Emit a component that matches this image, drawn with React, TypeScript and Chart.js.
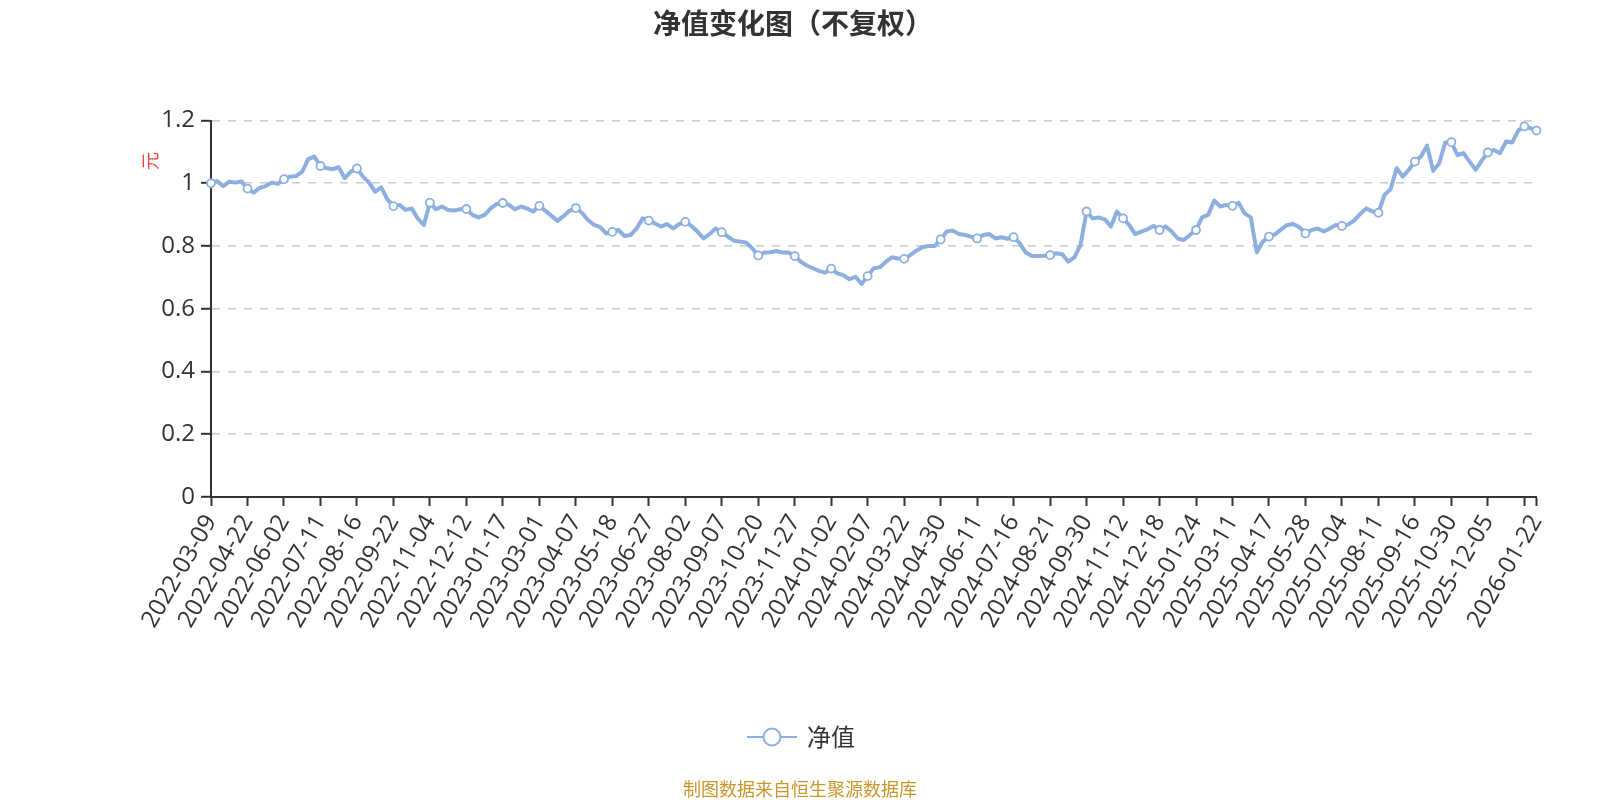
import React, { useEffect, useRef } from 'react';
import { Chart, registerables } from 'chart.js';

Chart.register(...registerables);

// ---- data ----
const chartTitle = '净值变化图（不复权）';
const seriesName = '净值';
const unitName = '元';
const sourceNote = '制图数据来自恒生聚源数据库';

// labelled dates (every 6th sampled point), plus the final date
const tickDates: string[] = [
  '2022-03-09', '2022-04-22', '2022-06-02', '2022-07-11', '2022-08-16', '2022-09-22',
  '2022-11-04', '2022-12-12', '2023-01-17', '2023-03-01', '2023-04-07', '2023-05-18',
  '2023-06-27', '2023-08-02', '2023-09-07', '2023-10-20', '2023-11-27', '2024-01-02',
  '2024-02-07', '2024-03-22', '2024-04-30', '2024-06-11', '2024-07-16', '2024-08-21',
  '2024-09-30', '2024-11-12', '2024-12-18', '2025-01-24', '2025-03-11', '2025-04-17',
  '2025-05-28', '2025-07-04', '2025-08-11', '2025-09-16', '2025-10-30', '2025-12-05',
];
const lastDate = '2026-01-22';
const pointsPerLabel = 6;

// net value (元), sampled along the axis
const navValues: number[] = [
  1.000, 1.007, 0.991, 1.005, 1.002, 1.006,
  0.983, 0.970, 0.985, 0.991, 1.002, 0.998,
  1.013, 1.021, 1.023, 1.037, 1.077, 1.085,
  1.055, 1.048, 1.045, 1.051, 1.016, 1.037,
  1.047, 1.021, 1.002, 0.973, 0.987, 0.949,
  0.927, 0.931, 0.915, 0.920, 0.888, 0.867,
  0.938, 0.917, 0.926, 0.915, 0.913, 0.917,
  0.918, 0.899, 0.891, 0.899, 0.920, 0.934,
  0.937, 0.931, 0.917, 0.926, 0.919, 0.910,
  0.928, 0.912, 0.896, 0.880, 0.896, 0.913,
  0.921, 0.906, 0.883, 0.867, 0.860, 0.840,
  0.845, 0.851, 0.832, 0.835, 0.856, 0.888,
  0.881, 0.872, 0.862, 0.870, 0.856, 0.870,
  0.877, 0.864, 0.846, 0.824, 0.838, 0.856,
  0.844, 0.830, 0.817, 0.814, 0.811, 0.793,
  0.770, 0.779, 0.780, 0.784, 0.779, 0.779,
  0.768, 0.750, 0.738, 0.729, 0.721, 0.715,
  0.728, 0.713, 0.707, 0.694, 0.702, 0.679,
  0.704, 0.729, 0.732, 0.750, 0.764, 0.760,
  0.759, 0.771, 0.785, 0.796, 0.800, 0.800,
  0.821, 0.846, 0.849, 0.838, 0.835, 0.830,
  0.824, 0.835, 0.838, 0.824, 0.828, 0.823,
  0.828, 0.809, 0.779, 0.768, 0.768, 0.769,
  0.771, 0.777, 0.774, 0.750, 0.764, 0.803,
  0.910, 0.888, 0.891, 0.885, 0.862, 0.910,
  0.888, 0.867, 0.838, 0.846, 0.853, 0.864,
  0.851, 0.862, 0.846, 0.824, 0.819, 0.835,
  0.851, 0.891, 0.899, 0.945, 0.926, 0.931,
  0.928, 0.938, 0.904, 0.891, 0.780, 0.814,
  0.830, 0.837, 0.853, 0.867, 0.870, 0.860,
  0.840, 0.851, 0.856, 0.846, 0.856, 0.867,
  0.864, 0.868, 0.881, 0.902, 0.920, 0.910,
  0.906, 0.963, 0.981, 1.048, 1.021, 1.043,
  1.069, 1.085, 1.120, 1.040, 1.064, 1.130,
  1.131, 1.090, 1.096, 1.069, 1.043, 1.072,
  1.098, 1.106, 1.096, 1.133, 1.130, 1.168,
  1.181, 1.176, 1.168,
];

const yMin = 0;
const yMax = 1.2;
const yStep = 0.2;

// ---- styles ----
const lineColor = '#8cafe0';
const axisColor = '#333333';
const textColor = '#333333';
const gridColor = '#cccccc';
const FONT = '"Open Sans", "Noto Sans", "Noto Sans CJK SC", sans-serif';
const CJK = '"Noto Sans CJK SC", "Open Sans", sans-serif';

const lastIndex = navValues.length - 1;
const labels: string[] = navValues.map((_, i) => {
  if (i === lastIndex) return lastDate;
  if (i % pointsPerLabel === 0) {
    const k = i / pointsPerLabel;
    return k < tickDates.length ? tickDates[k] : '';
  }
  return '';
});
const isMarked = (i: number) => i % pointsPerLabel === 0 || i === lastIndex;

const overlayPlugin = {
  id: 'overlayTexts',
  afterDraw(chart: any) {
    const ctx = chart.ctx as CanvasRenderingContext2D;
    ctx.save();
    // title
    ctx.fillStyle = textColor;
    ctx.font = `bold 28px ${CJK}`;
    ctx.textAlign = 'center';
    ctx.textBaseline = 'middle';
    ctx.fillText(chartTitle, 793, 23);

    // y axis name (rotated)
    ctx.save();
    ctx.translate(150, 161);
    ctx.rotate(-Math.PI / 2);
    ctx.fillStyle = '#ff3b3b';
    ctx.font = `18px ${CJK}`;
    ctx.textAlign = 'center';
    ctx.textBaseline = 'middle';
    ctx.fillText(unitName, 0, 0);
    ctx.restore();

    // legend
    const ly = 737;
    ctx.strokeStyle = lineColor;
    ctx.lineWidth = 2;
    ctx.beginPath();
    ctx.moveTo(747, ly);
    ctx.lineTo(797, ly);
    ctx.stroke();
    ctx.beginPath();
    ctx.arc(772, ly, 8.5, 0, Math.PI * 2);
    ctx.fillStyle = '#ffffff';
    ctx.fill();
    ctx.stroke();
    ctx.fillStyle = textColor;
    ctx.font = `24px ${CJK}`;
    ctx.textAlign = 'left';
    ctx.textBaseline = 'middle';
    ctx.fillText(seriesName, 807, ly);

    // source note
    ctx.fillStyle = '#c9962c';
    ctx.font = `18px ${CJK}`;
    ctx.textAlign = 'center';
    ctx.textBaseline = 'middle';
    ctx.fillText(sourceNote, 800, 789);
    ctx.restore();
  },
};

export default function App() {
  const canvasRef = useRef<HTMLCanvasElement | null>(null);

  useEffect(() => {
    const canvas = canvasRef.current;
    if (!canvas) return;
    const chart = new Chart(canvas, {
      type: 'line',
      data: {
        labels,
        datasets: [
          {
            label: seriesName,
            data: navValues,
            borderColor: lineColor,
            borderWidth: 4,
            borderJoinStyle: 'round',
            tension: 0,
            pointRadius: (c: any) => (isMarked(c.dataIndex) ? 4 : 0),
            pointHoverRadius: (c: any) => (isMarked(c.dataIndex) ? 4 : 0),
            pointBackgroundColor: '#ffffff',
            pointBorderColor: lineColor,
            pointBorderWidth: 1.8,
          },
        ],
      },
      options: {
        responsive: false,
        animation: false,
        devicePixelRatio: 1,
        layout: { padding: { left: 0, right: 63.5, top: 120.5, bottom: 0 } },
        plugins: {
          legend: { display: false },
          title: { display: false },
          tooltip: { enabled: false },
        },
        scales: {
          x: {
            type: 'category',
            offset: false,
            afterBuildTicks: (scale: any) => {
              scale.ticks = scale.ticks.filter(
                (t: any) => t.value % pointsPerLabel === 0 || t.value === lastIndex
              );
            },
            afterFit: (scale: any) => {
              scale.height = 303;
            },
            grid: {
              drawOnChartArea: false,
              drawTicks: true,
              tickLength: 9,
              tickColor: axisColor,
              tickWidth: 2,
            },
            border: { display: true, color: axisColor, width: 2 },
            ticks: {
              autoSkip: false,
              maxRotation: 60,
              minRotation: 60,
              padding: 4,
              color: textColor,
              font: { size: 24, family: FONT },
              callback: (value: any) => labels[value as number],
            },
          },
          y: {
            type: 'linear',
            min: yMin,
            max: yMax,
            afterFit: (scale: any) => {
              scale.width = 211;
            },
            grid: {
              color: (c: any) => (c.tick && c.tick.value === 0 ? 'rgba(0,0,0,0)' : gridColor),
              lineWidth: 1.6,
              drawTicks: true,
              tickLength: 10,
              tickColor: axisColor,
              tickWidth: 2,
            },
            border: { display: true, color: axisColor, width: 2, dash: [8, 8] },
            ticks: {
              stepSize: yStep,
              padding: 6,
              color: textColor,
              font: { size: 24, family: FONT },
              callback: (value: any) => String(Number(Number(value).toFixed(1))),
            },
          },
        },
      },
      plugins: [overlayPlugin],
    } as any);
    return () => chart.destroy();
  }, []);

  return (
    <div style={{ position: 'absolute', left: 0, top: 0, width: 1600, height: 800, background: '#ffffff' }}>
      <canvas ref={canvasRef} width={1600} height={800} />
    </div>
  );
}
